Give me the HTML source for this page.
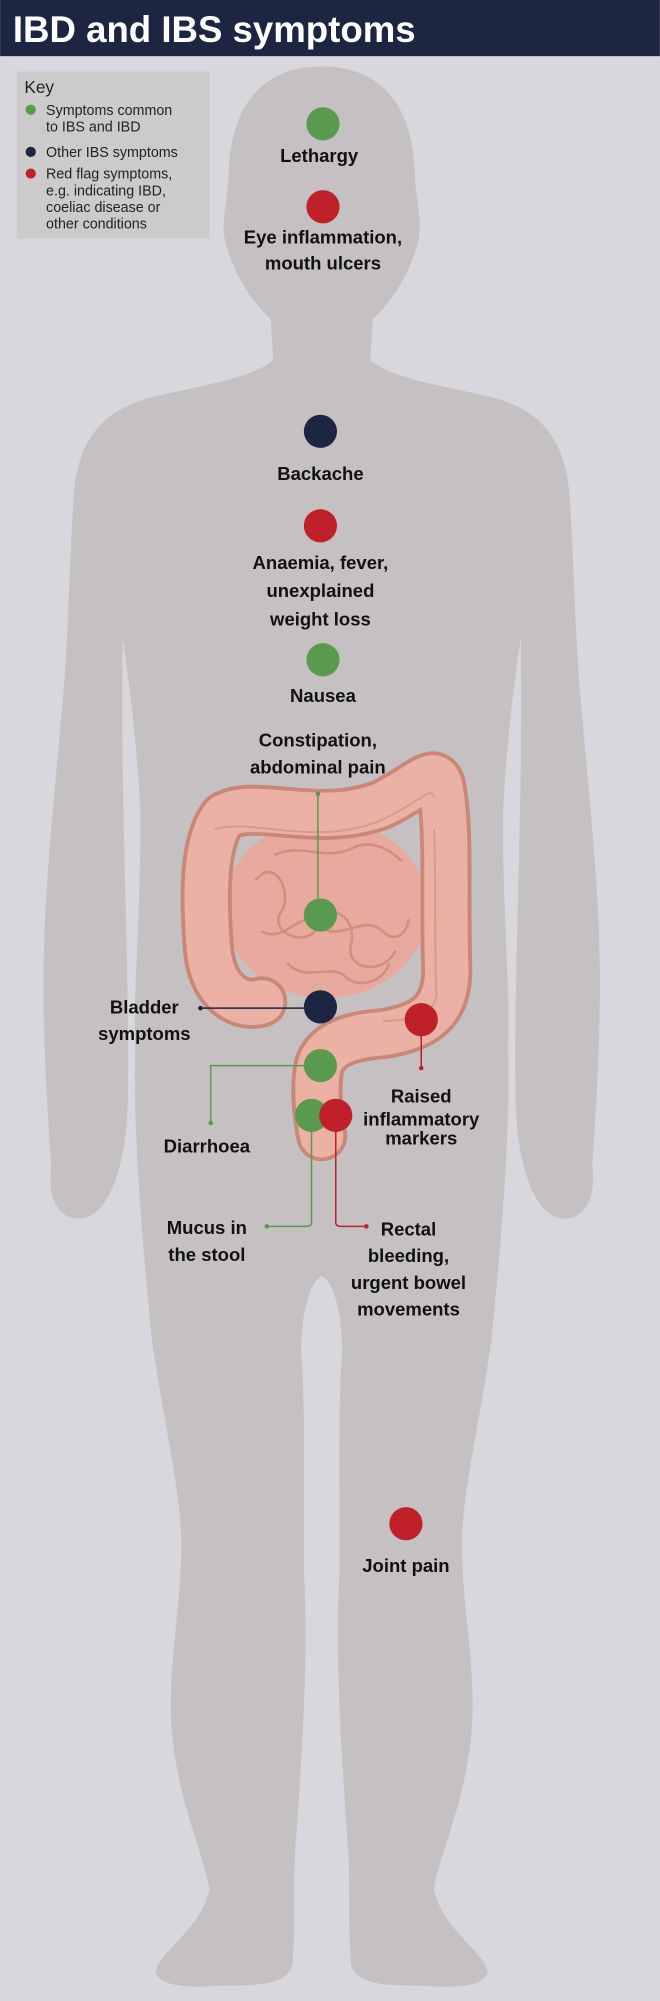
<!DOCTYPE html>
<html><head><meta charset="utf-8"><style>
html,body{margin:0;padding:0;background:#d9d7de;}
svg{display:block;}
text{font-family:"Liberation Sans",sans-serif;}
.l{font-weight:bold;font-size:14.5px;fill:#111;text-anchor:middle;}
.k{font-size:11.2px;fill:#222;}
</style></head><body>
<svg width="660" height="2001" viewBox="0 0 517 1568" xmlns="http://www.w3.org/2000/svg">
<rect width="517" height="1568" fill="#d9d7de"/>
<g id="half" fill="#c5c0c1">
<path d="M252,52 C300,52 325,85 325,140 C327,165 332,178 326,195 C318,220 305,238 292,250 L290,282 C305,295 335,300 380,310 C425,320 442,345 446,385 C450,440 450,500 456,560 C462,630 470,700 470,770 C470,830 466,880 464,915 C468,945 452,962 432,952 C415,942 405,905 404,865 C402,760 410,640 408,500 C402,540 396,590 394,640 C394,720 400,780 398,820 C400,880 394,960 385,1050 C375,1120 362,1170 362,1210 C362,1260 372,1300 370,1350 C366,1410 345,1450 340,1480 C345,1510 380,1530 382,1545 C380,1556 360,1558 330,1556 C300,1556 280,1555 275,1540 C272,1500 275,1470 272,1440 C268,1380 262,1300 266,1230 C266,1150 265,1100 268,1060 C268,1030 262,1005 252,1000 Z"/>
</g>
<use href="#half" transform="translate(504,0) scale(-1,1)"/>
<rect x="0" y="0" width="517" height="44" fill="#1c2541"/>
<text x="10" y="33" font-size="28.7" font-weight="bold" fill="#fff">IBD and IBS symptoms</text>
<rect x="13" y="56" width="151" height="131" fill="#cdcacb"/>
<text x="19" y="73" font-size="13.5" fill="#222">Key</text>
<circle cx="24" cy="86" r="4" fill="#5a9a4e"/>
<text class="k" x="36" y="90">Symptoms common</text>
<text class="k" x="36" y="103">to IBS and IBD</text>
<circle cx="24" cy="119" r="4" fill="#1c2541"/>
<text class="k" x="36" y="123">Other IBS symptoms</text>
<circle cx="24" cy="136" r="4" fill="#c0202a"/>
<text class="k" x="36" y="140">Red flag symptoms,</text>
<text class="k" x="36" y="153">e.g. indicating IBD,</text>
<text class="k" x="36" y="166">coeliac disease or</text>
<text class="k" x="36" y="179">other conditions</text>
<ellipse cx="255" cy="712" rx="80" ry="70" fill="#e8aa9e"/>
<g fill="none" stroke-linecap="round" stroke-linejoin="round">
<path d="M205,785 C190,790 165,780 163,740 C160,700 160,660 175,640 C200,625 250,650 300,630 C330,615 340,600 345,615 C352,650 348,700 350,760 C350,795 330,805 300,810 C270,812 255,820 250,835 C247,850 248,870 252,890" stroke="#c98778" stroke-width="40"/>
<path d="M205,785 C190,790 165,780 163,740 C160,700 160,660 175,640 C200,625 250,650 300,630 C330,615 340,600 345,615 C352,650 348,700 350,760 C350,795 330,805 300,810 C270,812 255,820 250,835 C247,850 248,870 252,890" stroke="#eab1a4" stroke-width="34"/>
</g>
<g fill="none" stroke="#d08f82" stroke-width="2">
<path d="M200,690 c15,-20 30,10 20,25 c-10,15 20,30 30,10 c10,-20 30,-5 25,15 c-5,20 25,25 35,5"/>
<path d="M205,730 c20,10 30,-20 45,-5 c15,15 35,-10 50,5 c10,10 20,0 20,-10"/>
<path d="M225,755 c15,15 35,0 45,10 c10,10 30,5 35,-10"/>
<path d="M215,670 c20,-10 40,5 60,-5 c15,-8 30,0 40,10"/>
</g>
<g fill="none" stroke="#d79a8d" stroke-width="1.5">
<path d="M168,650 C195,640 250,665 300,642 C330,628 338,615 340,625"/>
<path d="M340,650 C342,700 340,750 342,780 C340,795 320,800 300,800"/>
</g>
<g fill="none" stroke-width="1.2">
<path d="M249,622 V717" stroke="#5a9a4e"/>
<path d="M157,790 H251" stroke="#1c2541"/>
<path d="M330,799 V837" stroke="#c0202a"/>
<path d="M251,835 H165 V880" stroke="#5a9a4e"/>
<path d="M244,874 V958 Q244,961 240,961 H209" stroke="#5a9a4e"/>
<path d="M263,874 V958 Q263,961 267,961 H287" stroke="#c0202a"/>
</g>
<g>
<circle cx="249" cy="622" r="1.8" fill="#5a9a4e"/>
<circle cx="157" cy="790" r="1.8" fill="#1c2541"/>
<circle cx="330" cy="837" r="1.8" fill="#c0202a"/>
<circle cx="165" cy="880" r="1.8" fill="#5a9a4e"/>
<circle cx="209" cy="961" r="1.8" fill="#5a9a4e"/>
<circle cx="287" cy="961" r="1.8" fill="#c0202a"/>
</g>
<circle cx="253" cy="97" r="13" fill="#5a9a4e"/>
<circle cx="253" cy="162" r="13" fill="#c0202a"/>
<circle cx="251" cy="338" r="13" fill="#1c2541"/>
<circle cx="251" cy="412" r="13" fill="#c0202a"/>
<circle cx="253" cy="517" r="13" fill="#5a9a4e"/>
<circle cx="251" cy="717" r="13" fill="#5a9a4e"/>
<circle cx="251" cy="789" r="13" fill="#1c2541"/>
<circle cx="330" cy="799" r="13" fill="#c0202a"/>
<circle cx="251" cy="835" r="13" fill="#5a9a4e"/>
<circle cx="244" cy="874" r="13" fill="#5a9a4e"/>
<circle cx="263" cy="874" r="13" fill="#c0202a"/>
<circle cx="318" cy="1194" r="13" fill="#c0202a"/>
<text class="l" x="250" y="127">Lethargy</text>
<text class="l" x="253" y="191">Eye inflammation,</text>
<text class="l" x="253" y="211">mouth ulcers</text>
<text class="l" x="251" y="376">Backache</text>
<text class="l" x="251" y="446">Anaemia, fever,</text>
<text class="l" x="251" y="468">unexplained</text>
<text class="l" x="251" y="490">weight loss</text>
<text class="l" x="253" y="550">Nausea</text>
<text class="l" x="249" y="585">Constipation,</text>
<text class="l" x="249" y="606">abdominal pain</text>
<text class="l" x="113" y="794">Bladder</text>
<text class="l" x="113" y="815">symptoms</text>
<text class="l" x="330" y="864">Raised</text>
<text class="l" x="330" y="882">inflammatory</text>
<text class="l" x="330" y="897">markers</text>
<text class="l" x="162" y="903">Diarrhoea</text>
<text class="l" x="162" y="967">Mucus in</text>
<text class="l" x="162" y="988">the stool</text>
<text class="l" x="320" y="968">Rectal</text>
<text class="l" x="320" y="989">bleeding,</text>
<text class="l" x="320" y="1010">urgent bowel</text>
<text class="l" x="320" y="1031">movements</text>
<text class="l" x="318" y="1232">Joint pain</text>
</svg>
</body></html>
